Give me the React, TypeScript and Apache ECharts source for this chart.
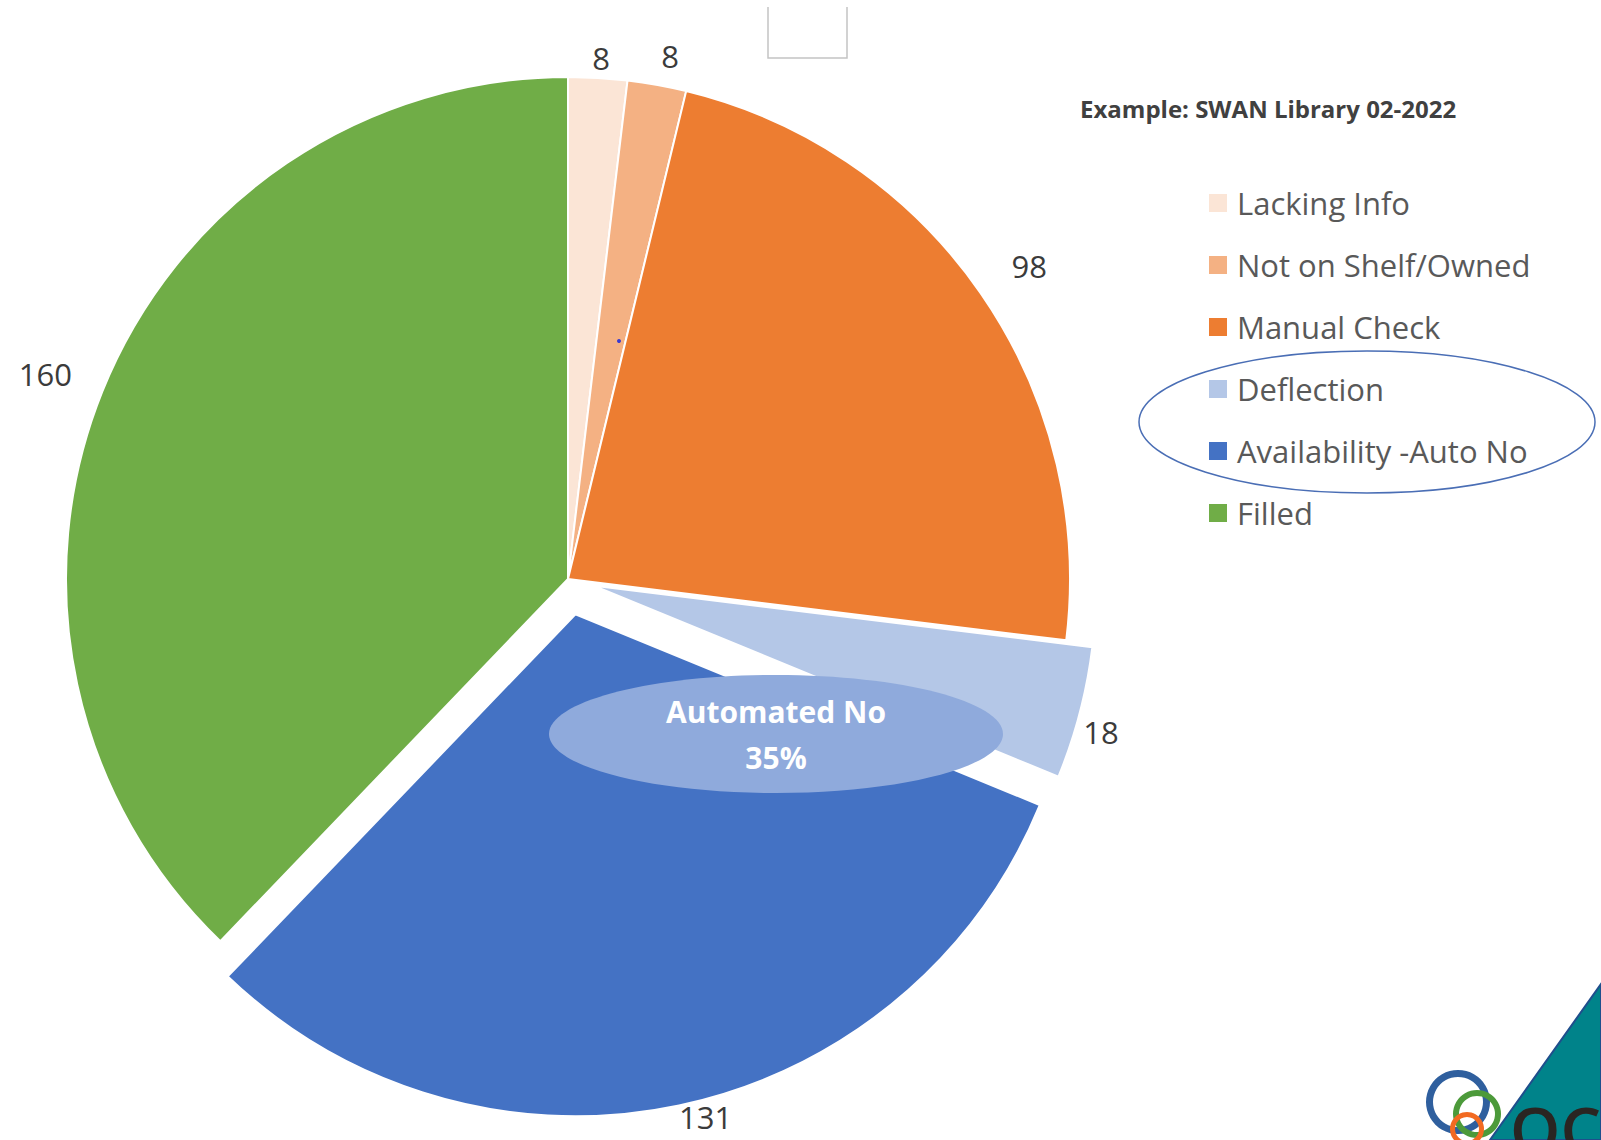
import React, { useEffect, useRef } from "react";
import * as echarts from "echarts";

// ---- data ----
const categories = [
  "Lacking Info",
  "Not on Shelf/Owned",
  "Manual Check",
  "Deflection",
  "Availability -Auto No",
  "Filled",
];
const values = [8, 8, 98, 18, 131, 160];
const colors = ["#FBE5D6", "#F4B183", "#ED7D31", "#B4C7E7", "#4472C4", "#70AD47"];
const titleText = "Example: SWAN Library 02-2022";
const calloutLines = ["Automated No", "35%"];

// ---- style / layout ----
const CX = 568;
const CY = 579;
const R = 502;
const explodeOffsets = [0, 0, 0, 27, 36, 0];
const labelPads = [20, 29, 54, 26, 27, 58];
const labelShifts = [
  [2, 0],
  [8, 0],
  [4, 3],
  [-4, 12],
  [21, -15],
  [-3, 4],
];
const FONT = '"Open Sans", "Noto Sans", sans-serif';

const total = values.reduce((a, b) => a + b, 0);
const cumBefore = values.map((_, i) => values.slice(0, i).reduce((a, b) => a + b, 0));

function midDir(i: number) {
  const mid = ((cumBefore[i] + values[i] / 2) / total) * Math.PI * 2;
  return { dx: Math.sin(mid), dy: -Math.cos(mid) };
}

function sliceCenter(i: number) {
  const { dx, dy } = midDir(i);
  return [CX + explodeOffsets[i] * dx, CY + explodeOffsets[i] * dy];
}

function labelPos(i: number) {
  const { dx, dy } = midDir(i);
  const d = explodeOffsets[i] + R + labelPads[i];
  return { x: CX + d * dx + labelShifts[i][0], y: CY + d * dy + labelShifts[i][1] };
}

export default function App() {
  const ref = useRef<HTMLDivElement>(null);
  useEffect(() => {
    if (!ref.current) return;
    const chart = echarts.init(ref.current, undefined, { renderer: "svg" });
    const transparent = "rgba(0,0,0,0)";
    const labelStyle = {
      show: true,
      position: "outside",
      fontFamily: FONT,
      fontSize: 31,
      lineHeight: 32,
      color: "#3b3b3b",
      formatter: "{c}",
    };
    const layoutFn = (params: any) => {
      const p = labelPos(params.dataIndex);
      return { x: p.x, y: p.y, align: "center", verticalAlign: "middle" };
    };

    // group of slices drawn together with one (possibly exploded) center
    const groups: number[][] = [[0, 1, 2, 5], [3], [4]];
    const series = groups.map((members, gi) => ({
      type: "pie",
      center: sliceCenter(members[0]),
      radius: R,
      startAngle: 90,
      clockwise: true,
      avoidLabelOverlap: false,
      emphasis: { disabled: true },
      labelLine: { show: false },
      label: labelStyle,
      labelLayout: layoutFn,
      silent: true,
      z: 2 + gi,
      data: categories.map((name, i) => {
        if (members.indexOf(i) >= 0) {
          return {
            name,
            value: values[i],
            itemStyle: { color: colors[i], borderColor: "#ffffff", borderWidth: 2 },
          };
        }
        return {
          name,
          value: values[i],
          itemStyle: { color: transparent, borderWidth: 0 },
          label: { show: false },
        };
      }),
    }));

    chart.setOption({
      animation: false,
      legend: {
        orient: "vertical",
        left: 1204,
        top: 180,
        itemWidth: 18,
        itemHeight: 18,
        itemGap: 26,
        icon: "rect",
        selectedMode: false,
        textStyle: {
          fontFamily: FONT,
          fontSize: 31,
          color: "#595959",
          lineHeight: 36,
          padding: [0, 0, 0, 5],
        },
        data: categories.map((name, i) => ({
          name,
          itemStyle: { color: colors[i], opacity: 1, borderWidth: 0 },
        })),
      },
      graphic: [
        {
          type: "text",
          x: 1080,
          y: 108,
          z: 100,
          style: {
            text: titleText,
            fontFamily: FONT,
            fontWeight: "bold",
            fontSize: 24,
            fill: "#404040",
            verticalAlign: "middle",
          },
        },
        {
          type: "ellipse",
          z: 100,
          shape: { cx: 1367, cy: 422, rx: 228, ry: 71 },
          style: { fill: "none", stroke: "#4A6EB5", lineWidth: 1.5 },
        },
        {
          type: "ellipse",
          z: 100,
          shape: { cx: 776, cy: 734, rx: 227, ry: 59 },
          style: { fill: "#8FAADC" },
        },
        {
          type: "text",
          x: 776,
          y: 711,
          z: 101,
          style: {
            text: calloutLines[0],
            fontFamily: FONT,
            fontWeight: "bold",
            fontSize: 30,
            fill: "#ffffff",
            align: "center",
            verticalAlign: "middle",
          },
        },
        {
          type: "text",
          x: 776,
          y: 757,
          z: 101,
          style: {
            text: calloutLines[1],
            fontFamily: FONT,
            fontWeight: "bold",
            fontSize: 30,
            fill: "#ffffff",
            align: "center",
            verticalAlign: "middle",
          },
        },
        {
          type: "polyline",
          z: 100,
          shape: { points: [[768, 7], [768, 58], [847, 58], [847, 7]] },
          style: { fill: "none", stroke: "#c4c4c4", lineWidth: 1.5 },
        },
        {
          type: "circle",
          z: 100,
          shape: { cx: 619, cy: 341, r: 2 },
          style: { fill: "#3a3ad0" },
        },
        {
          type: "polygon",
          z: 100,
          shape: { points: [[1601, 984], [1601, 1140], [1490, 1140]] },
          style: { fill: "#00838A", stroke: "#1F4E8C", lineWidth: 2 },
        },
        {
          type: "ring",
          z: 101,
          shape: { cx: 1458, cy: 1102, r: 32, r0: 25 },
          style: { fill: "#2F5F9E" },
        },
        {
          type: "ring",
          z: 102,
          shape: { cx: 1477, cy: 1114, r: 24, r0: 18 },
          style: { fill: "#4C9A3A" },
        },
        {
          type: "ring",
          z: 103,
          shape: { cx: 1467, cy: 1129, r: 17, r0: 12 },
          style: { fill: "#F26A21" },
        },
        {
          type: "text",
          x: 1510,
          y: 1128,
          z: 104,
          style: {
            text: "OCLC",
            fontFamily: FONT,
            fontWeight: 600,
            fontSize: 64,
            fill: "#2a2522",
            verticalAlign: "middle",
          },
        },
      ],
      series,
    });
    return () => chart.dispose();
  }, []);
  return (
    <div
      ref={ref}
      style={{ position: "absolute", left: 0, top: 0, width: 1601, height: 1140 }}
    />
  );
}
